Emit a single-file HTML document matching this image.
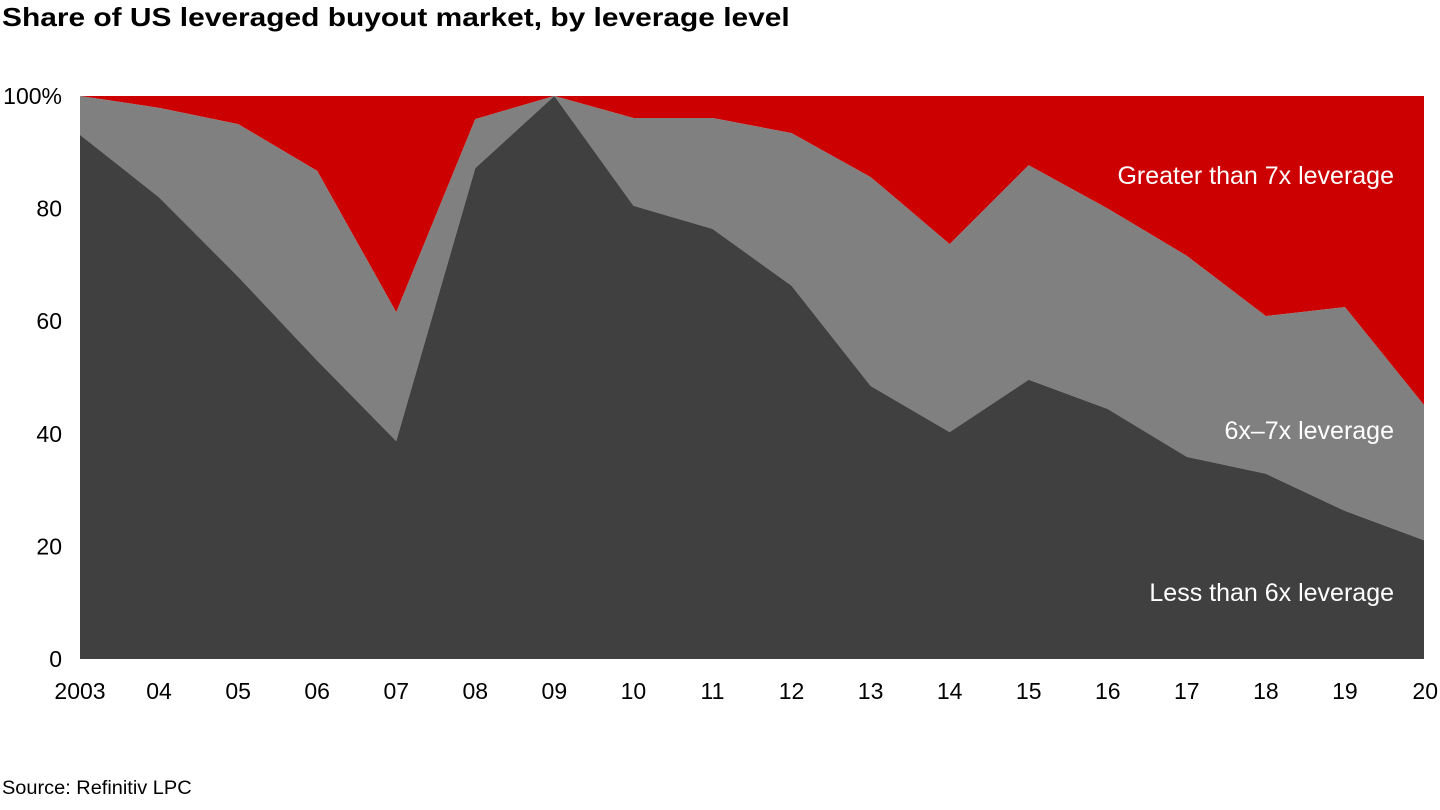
<!DOCTYPE html>
<html><head><meta charset="utf-8"><style>
body{margin:0;background:#fff;font-family:"Liberation Sans",Arial,sans-serif;}
#c{position:relative;width:1440px;height:810px;overflow:hidden;}
.t{position:absolute;white-space:nowrap;}
</style></head><body>
<div id="c">
<div class="t" style="left:2px;top:2px;font-size:26px;font-weight:bold;color:#000;transform-origin:0 0;transform:scaleX(1.15);">Share of US leveraged buyout market, by leverage level</div>
<svg id="s" width="1440" height="810" style="position:absolute;left:0;top:0"></svg>
<div class="t" style="left:2px;top:778px;font-size:19px;color:#000;transform-origin:0 0;transform:scaleX(1.05);">Source: Refinitiv LPC</div>
</div>
<script>
const years=["2003","04","05","06","07","08","09","10","11","12","13","14","15","16","17","18","19","20"];
const lessThan6=[93.1,82,67.9,53,38.7,87.2,100,80.5,76.4,66.3,48.5,40.3,49.6,44.4,35.9,32.9,26.3,21.1];
const between6and7=[6.9,15.9,27.1,33.7,22.9,8.7,0,15.6,19.7,27.1,37.1,33.4,38.1,35.6,35.7,28,36.2,24];
const greaterThan7=[0,2.1,5,13.3,38.4,4.1,0,3.9,3.9,6.6,14.4,26.3,12.3,20,28.4,39.1,37.5,54.9];
const yTicks=[0,20,40,60,80,100];
const NS="http://www.w3.org/2000/svg";
const svg=document.getElementById('s');
const x0=80,x1=1424,y0=659,y1=96;
const xs=i=>x0+(x1-x0)*i/(years.length-1);
const ys=v=>y0-(y0-y1)*v/100;
function poly(lo,hi,color,name){
  const pts=[];
  hi.forEach((v,i)=>pts.push(xs(i)+","+ys(v)));
  for(let i=lo.length-1;i>=0;i--)pts.push(xs(i)+","+ys(lo[i]));
  const p=document.createElementNS(NS,'polygon');
  p.setAttribute('points',pts.join(' '));
  p.setAttribute('fill',color);
  
  
  svg.appendChild(p);
}
const zero=years.map(()=>0);
const c1=lessThan6.slice();
const c2=lessThan6.map((v,i)=>v+between6and7[i]);
const c3=c2.map((v,i)=>v+greaterThan7[i]);
poly(c2,c3,'#cc0000','area-greater-than-7x');
poly(c1,c2,'#808080','area-6x-7x');
poly(zero,c1,'#404040','area-less-than-6x');
function txt(x,y,s,anchor,fill,size,name){
  const t=document.createElementNS(NS,'text');
  t.setAttribute('x',x);t.setAttribute('y',y);t.setAttribute('text-anchor',anchor);
  t.setAttribute('fill',fill);t.setAttribute('font-size',size);
  t.setAttribute('font-family','Liberation Sans, Arial, sans-serif');
  t.textContent=s;
  
  
  svg.appendChild(t);
}
yTicks.forEach(v=>txt(62,ys(v)+8,v===100?"100%":String(v),'end','#000',23,'y-tick-label'));
years.forEach((y,i)=>{
  const last=i===years.length-1;
  txt(last?1438:xs(i),699,y,last?'end':'middle','#000',23,'x-tick-label');
});
txt(1394,184,'Greater than 7x leverage','end','#fff',25,'label-greater-than-7x');
txt(1394,439,'6x\u20137x leverage','end','#fff',25,'label-6x-7x');
txt(1394,601,'Less than 6x leverage','end','#fff',25,'label-less-than-6x');
</script>
</body></html>
